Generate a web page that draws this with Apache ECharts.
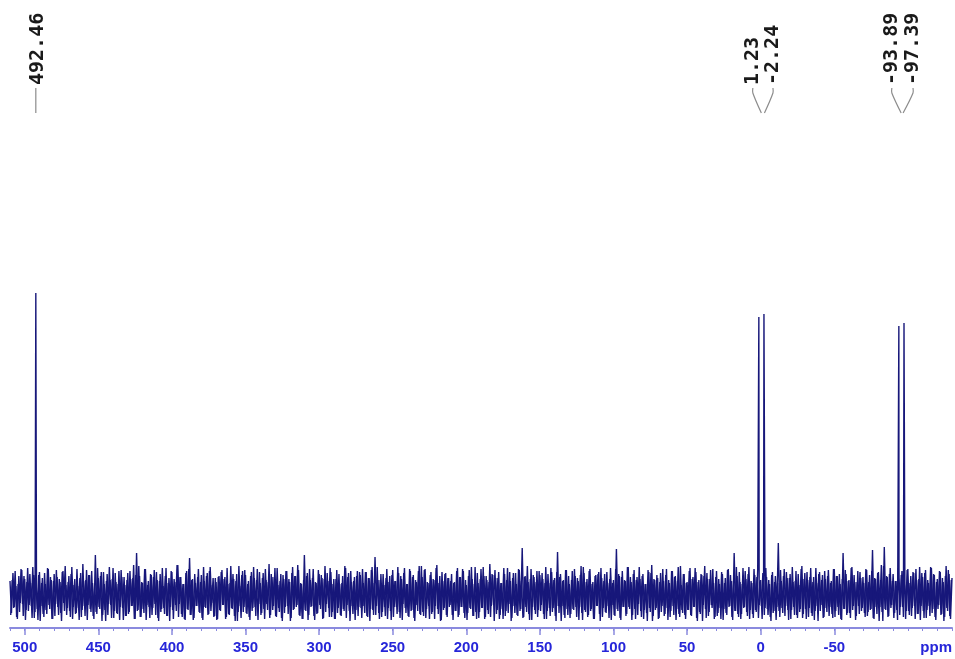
<!DOCTYPE html>
<html>
<head>
<meta charset="utf-8">
<title>Spectrum</title>
<script src="https://cdn.jsdelivr.net/npm/echarts@6/dist/echarts.min.js"></script>
<style>
  html, body { margin: 0; padding: 0; background: #ffffff; }
  #chart { width: 955px; height: 659px; }
</style>
</head>
<body>
<div id="chart"></div>
<script>
// Chemical shift axis (ppm) labelled positions
const tickValues = [500, 450, 400, 350, 300, 250, 200, 150, 100, 50, 0, -50];

// Picked peaks: shift (ppm), intensity (arbitrary units) and printed label
const peakShifts = [492.46, 1.23, -2.24, -93.89, -97.39];
const peakHeights = [302, 278, 281, 269, 272];
const peakLabels = ['492.46', '1.23', '-2.24', '-93.89', '-97.39'];

// Baseline noise on the whole-ppm grid, from 510 down to -130
const noiseStart = 510;
const noiseStep = 1;
const noise = [
  14,-18,22,-12,9,-24,19,-8,25,-21,16,-15,27,-10,12,-23,20,-17,8,-25,
  23,-11,17,-22,11,-19,26,-14,15,-24,21,-9,18,-20,13,-26,24,-16,10,-13,
  19,-22,28,-12,16,-18,9,-25,22,-15,14,-21,25,-10,20,-17,12,-24,40,-19,
  17,-14,23,-20,11,-26,21,-9,15,-23,27,-16,13,-19,24,-12,18,-25,10,-21,
  22,-17,16,-11,30,-24,42,-15,19,-22,12,-18,26,-10,14,-23,20,-13,25,-20,
  15,-26,21,-14,9,-19,27,-21,17,-12,23,-24,13,-16,30,-9,18,-22,11,-25,
  24,-15,37,-20,16,-23,12,-11,26,-18,20,-25,14,-13,22,-19,28,-8,17,-21,
  13,-24,19,-16,25,-10,18,-22,11,-20,29,-14,16,-26,21,-17,9,-23,24,-12,
  20,-19,14,-25,23,-13,17,-21,26,-9,12,-18,22,-24,15,-15,31,-20,18,-11,
  27,-22,10,-17,21,-26,16,-12,24,-19,13,-23,28,-14,19,-10,25,-21,11,-24,
  40,-16,22,-20,15,-11,26,-25,12,-18,21,-14,17,-23,29,-9,14,-22,23,-17,
  16,-24,25,-13,11,-21,19,-16,27,-10,22,-26,13,-19,18,-15,24,-12,20,-23,
  12,-18,23,-22,17,-14,28,-20,38,-11,15,-24,21,-17,10,-21,26,-13,19,-25,
  25,-12,14,-19,22,-23,16,-9,27,-18,11,-22,24,-15,20,-26,13,-16,29,-20,
  18,-21,26,-14,12,-24,23,-17,15,-11,30,-19,19,-25,14,-13,22,-22,17,-10,
  21,-25,13,-16,27,-20,18,-12,24,-23,10,-18,25,-14,16,-21,28,-24,12,-17,
  26,-13,19,-22,15,-19,31,-11,20,-26,17,-15,23,-20,12,-24,21,-16,27,-9,
  14,-23,22,-18,11,-21,25,-14,47,-22,19,-17,13,-25,26,-12,18,-19,24,-15,
  20,-10,16,-24,28,-16,12,-21,23,-13,17,-26,43,-18,21,-11,15,-23,25,-20,
  11,-19,24,-15,19,-22,14,-12,29,-25,22,-17,16,-20,26,-14,13,-24,20,-11,
  23,-26,17,-13,21,-18,12,-23,27,-10,15,-21,46,-16,19,-25,24,-12,14,-19,
  28,-14,13,-20,25,-24,18,-9,16,-22,21,-15,11,-26,23,-17,30,-21,15,-13,
  17,-23,22,-11,14,-19,26,-25,12,-16,24,-20,19,-14,28,-22,10,-18,21,-24,
  13,-15,27,-21,18,-12,23,-26,15,-19,20,-10,29,-23,16,-17,25,-13,12,-22,
  24,-18,11,-24,21,-14,17,-20,26,-11,14,-25,42,-16,19,-22,13,-19,27,-12,
  16,-21,28,-15,12,-23,20,-17,25,-10,15,-24,22,-13,18,-20,11,-26,23,-16,
  19,-12,52,-22,14,-18,26,-11,17,-25,21,-15,13,-20,24,-23,10,-14,29,-19,
  22,-24,15,-13,27,-21,18,-16,12,-26,23,-10,20,-22,16,-17,25,-12,14,-23,
  26,-16,19,-20,11,-25,42,-14,21,-18,15,-23,28,-11,13,-21,24,-19,17,-13,
  12,-22,25,-17,20,-14,45,-24,16,-19,23,-12,30,-26,48,-15,18,-21,27,-10,
  21,-18,14,-25,17,-12,24,-22,11,-16,26,-20,19,-13,22,-24,15,-19,28,-11,
  18,-23,25,-15,12,-21,27,-14,20,-25,16,-10,23,-19,13,-22,29,-16,21,-24,
  17
];

// Baseline noise on the half-ppm grid, from 509.5 down to -129.5
const noiseHalfStart = 509.5;
const noiseHalf = [
  -20,15,-13,24,-22,11,-17,26,-9,19,-25,13,-16,21,-11,28,-23,17,-14,20,
  -26,12,-19,22,-15,27,-10,18,-24,14,-21,25,-12,16,-18,23,-8,29,-20,13,
  -16,21,-24,10,-19,26,-13,17,-22,31,-11,15,-25,20,-14,24,-21,12,-17,27,
  -12,19,-26,23,-15,14,-20,28,-10,16,-23,22,-18,11,-25,25,-13,18,-21,15,
  -19,24,-11,17,-24,20,-16,29,-22,13,-14,26,-25,10,-12,21,-20,18,-9,23,
  -23,14,-17,27,-13,19,-21,12,-26,24,-15,16,-10,30,-22,18,-19,11,-24,22,
  -14,26,-20,15,-25,21,-11,18,-17,13,-23,28,-12,19,-20,24,-16,10,-22,17,
  -25,18,-15,23,-10,16,-24,27,-19,12,-13,21,-21,14,-26,29,-11,20,-17,25,
  -18,11,-22,19,-16,28,-12,15,-25,23,-20,17,-14,26,-9,13,-23,21,-15,18,
  -21,27,-13,14,-23,20,-18,24,-11,16,-26,22,-15,19,-12,30,-20,12,-24,15,
  -15,19,-25,26,-12,17,-21,13,-19,25,-10,20,-24,16,-17,22,-13,27,-22,11,
  -24,16,-18,21,-20,12,-14,29,-23,18,-16,24,-11,14,-25,19,-21,23,-13,26,
  -11,23,-21,17,-26,25,-15,12,-20,28,-18,15,-22,21,-12,17,-24,13,-16,20,
  -22,14,-12,28,-17,19,-25,22,-13,11,-21,26,-16,18,-23,15,-10,24,-19,29,
  -17,25,-23,13,-11,20,-19,16,-24,27,-14,12,-26,23,-15,21,-20,17,-12,14,
  -20,12,-16,24,-22,18,-12,26,-18,15,-25,19,-13,28,-21,11,-17,22,-23,16,
  -13,28,-24,19,-15,13,-22,21,-10,25,-19,17,-24,12,-14,27,-21,15,-18,23,
  -26,17,-11,22,-20,26,-16,14,-23,18,-12,29,-19,16,-25,20,-15,13,-22,24,
  -16,22,-19,12,-24,21,-13,27,-17,15,-21,23,-11,18,-26,14,-20,25,-14,19,
  -23,15,-14,26,-12,17,-25,20,-18,28,-15,13,-22,24,-16,11,-24,19,-11,21,
  -19,27,-22,14,-17,23,-11,16,-25,12,-20,26,-14,21,-23,18,-12,15,-21,28,
  -12,18,-25,21,-14,15,-20,28,-16,19,-24,11,-18,25,-13,22,-26,16,-15,20,
  -24,13,-17,26,-21,20,-13,15,-22,24,-11,18,-25,14,-19,29,-15,21,-20,12,
  -15,24,-20,16,-12,27,-23,13,-17,21,-26,19,-14,22,-21,16,-10,26,-24,18,
  -21,16,-13,23,-25,12,-18,25,-12,20,-22,14,-16,28,-19,23,-24,11,-13,24,
  -17,21,-24,14,-19,26,-15,18,-23,13,-11,22,-20,27,-14,15,-22,20,-18,13,
  -25,12,-16,25,-13,19,-21,23,-15,17,-24,28,-12,14,-20,21,-17,26,-23,16,
  -14,23,-22,18,-18,13,-25,27,-11,21,-16,15,-23,24,-13,19,-21,12,-19,26,
  -22,19,-12,21,-24,16,-14,25,-20,14,-18,27,-15,20,-25,13,-11,23,-16,18,
  -18,26,-21,13,-15,24,-23,17,-12,22,-26,15,-17,29,-14,19,-22,21,-13,14,
  -23,14,-15,27,-20,20,-12,18,-24,25,-16,12,-21,23,-11,26,-19,16,-25,22,
  -16,22,-23,15,-11,28,-18,21,-22,13,-14,24,-20,17,-26,19,-13,25,-21,15
];

// Label layout: horizontal shift of each label from its peak, and where the leader meets the spectrum
const labelDx = [2, -6, 9, -7, 9];
const tipDx = [0, 2.5, 0.5, 2.3, -0.9];
const labelBaseY = 85;
const leaderTopY = 88;
const leaderBendY = 93;
const leaderBottomY = 113;

const specColor = '#17177a';
const axisColor = '#8a8ade';
const tickLabelColor = '#2626d9';

// Whole-ppm samples plus peak maxima, ordered by shift
const trace = noise.map((v, i) => [noiseStart - i * noiseStep, v]);
peakShifts.forEach((s, i) => trace.push([s, peakHeights[i]]));
trace.sort((a, b) => b[0] - a[0]);

// Half-ppm samples
const traceHalf = noiseHalf.map((v, i) => [noiseHalfStart - i * noiseStep, v]);

const chart = echarts.init(document.getElementById('chart'), null, { renderer: 'canvas' });

const spectrumLine = {
  type: 'line',
  xAxisIndex: 0,
  showSymbol: false,
  symbol: 'none',
  sampling: null,
  lineStyle: { color: specColor, width: 1.4 },
  silent: true,
  z: 2
};

chart.setOption({
  backgroundColor: '#ffffff',
  animation: false,
  grid: { left: 10, right: 3, top: 28, bottom: 31, containLabel: false },
  xAxis: [
    {
      type: 'value',
      inverse: true,
      min: -130,
      max: 510,
      position: 'bottom',
      axisLine: { show: true, onZero: false, lineStyle: { color: axisColor, width: 2 } },
      axisTick: { show: true, customValues: tickValues, length: 7, lineStyle: { color: axisColor, width: 1.5 } },
      axisLabel: {
        show: true,
        customValues: tickValues,
        margin: 12,
        color: tickLabelColor,
        fontWeight: 'bold',
        fontSize: 15,
        fontFamily: '"Liberation Sans", Arial, sans-serif'
      },
      splitLine: { show: false }
    },
    {
      type: 'value',
      inverse: true,
      min: -130,
      max: 510,
      interval: 10,
      position: 'bottom',
      axisLine: { show: false, onZero: false },
      axisTick: { show: true, length: 3, lineStyle: { color: axisColor, width: 1 } },
      axisLabel: { show: false },
      splitLine: { show: false }
    }
  ],
  yAxis: { type: 'value', min: -33, max: 567, show: false, splitLine: { show: false } },
  graphic: [
    {
      type: 'text',
      right: 3,
      top: 640,
      style: {
        text: 'ppm',
        fill: tickLabelColor,
        font: 'bold 15px "Liberation Sans", Arial, sans-serif'
      }
    }
  ],
  series: [
    Object.assign({}, spectrumLine, { data: traceHalf }),
    Object.assign({}, spectrumLine, { data: trace }),
    {
      type: 'custom',
      xAxisIndex: 0,
      clip: false,
      silent: true,
      z: 3,
      data: peakShifts.map((s, i) => [s, peakHeights[i]]),
      renderItem: function (params, api) {
        const i = params.dataIndex;
        const px = api.coord([api.value(0), 0])[0];
        const tx = px + labelDx[i];
        const ex = px + tipDx[i];
        const pts = Math.abs(labelDx[i]) < 3
          ? [[px, leaderTopY], [px, leaderBottomY]]
          : [[tx, leaderTopY], [tx, leaderBendY], [ex, leaderBottomY]];
        return {
          type: 'group',
          children: [
            {
              type: 'text',
              x: tx,
              y: labelBaseY,
              rotation: Math.PI / 2,
              style: {
                text: peakLabels[i],
                x: 0,
                y: 0,
                fill: '#1a1a1a',
                font: 'bold 20px "DejaVu Sans Mono", monospace',
                align: 'left',
                verticalAlign: 'middle',
                textAlign: 'left',
                textVerticalAlign: 'middle'
              }
            },
            {
              type: 'polyline',
              shape: { points: pts, smooth: 0.3 },
              style: { stroke: '#8c8c8c', lineWidth: 1.2, fill: null }
            }
          ]
        };
      }
    }
  ]
});
</script>
</body>
</html>
